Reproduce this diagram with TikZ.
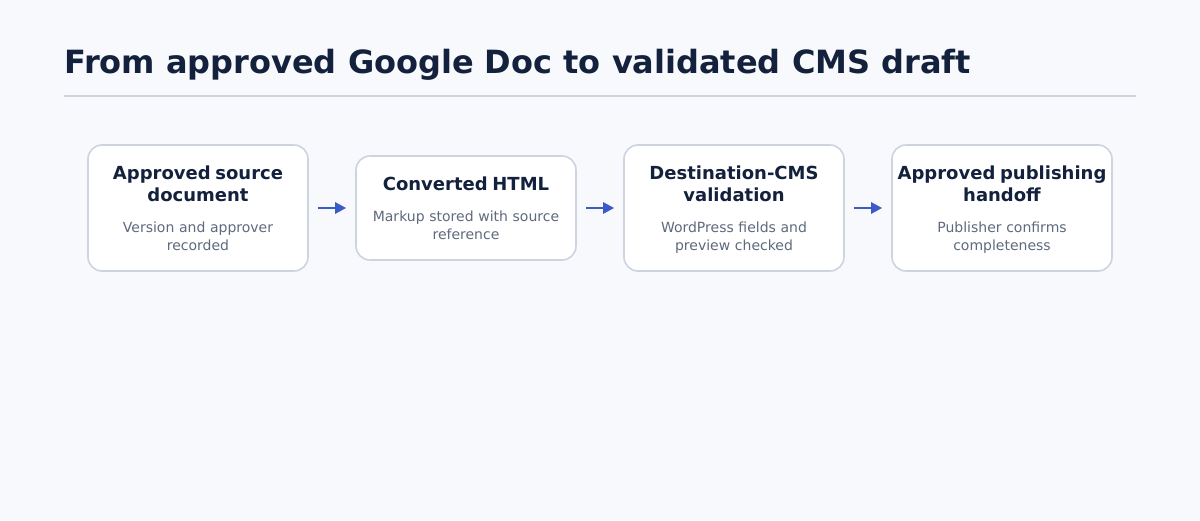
\documentclass[tikz,border=0pt]{standalone}
\usepackage{fontspec}
\setmainfont{DejaVu Sans}
\usetikzlibrary{arrows.meta}
\definecolor{bgpage}{HTML}{F7F9FC}
\definecolor{navy}{HTML}{13213D}
\definecolor{slate}{HTML}{5E6A7D}
\definecolor{edgegrey}{HTML}{CDD4DF}
\definecolor{flowblue}{HTML}{3A5BC8}
\newcommand{\ttlfont}{\fontsize{18}{18}\selectfont\bfseries\color{navy}}
\newcommand{\subfont}{\fontsize{14}{18}\selectfont\color{slate}}
\begin{document}
\begin{tikzpicture}[x=1pt,y=-1pt]

      \fill[bgpage] (0,0) rectangle (1200,520);
      \useasboundingbox (0,0) rectangle (1200,520);

      \node[anchor=base west, font=\fontsize{32}{38}\selectfont\bfseries, text=navy, inner sep=0pt] (title) at (64,73)
        {From approved Google Doc to validated CMS draft};
      \draw[edgegrey, line width=1.6pt] (64,96) -- (1136,96);

      \begin{scope}[every node/.style={draw=edgegrey, line width=1.6pt, fill=white, rounded corners=14pt,
          minimum width=220pt, text width=214pt, inner sep=3pt, align=center, font=\fontsize{14}{18}\selectfont}]
        \node[minimum height=126pt] (1) at (198,208)
          {{\ttlfont Approved source}\\[4pt]{\ttlfont document}\\[13pt]{\subfont Version and approver}\\{\subfont\smash{recorded}}};
        \node[minimum height=104pt] (2) at (466,208)
          {{\ttlfont Converted HTML}\\[13pt]{\subfont Markup stored with source}\\{\subfont\smash{reference}}};
        \node[minimum height=126pt] (3) at (734,208)
          {{\ttlfont Destination-CMS}\\[4pt]{\ttlfont validation}\\[13pt]{\subfont WordPress fields and}\\{\subfont\smash{preview checked}}};
        \node[minimum height=126pt] (4) at (1002,208)
          {{\ttlfont Approved publishing}\\[4pt]{\ttlfont handoff}\\[13pt]{\subfont Publisher confirms}\\{\subfont\smash{completeness}}};
      \end{scope}

      \begin{scope}[every path/.style={draw=flowblue, line width=2.5pt, shorten <=9pt, shorten >=9pt,
          -{Triangle[length=11pt,width=11pt]}}]
        \path (1) -- (2);
        \path (2) -- (3);
        \path (3) -- (4);
      \end{scope}

    \end{tikzpicture}
\end{document}
